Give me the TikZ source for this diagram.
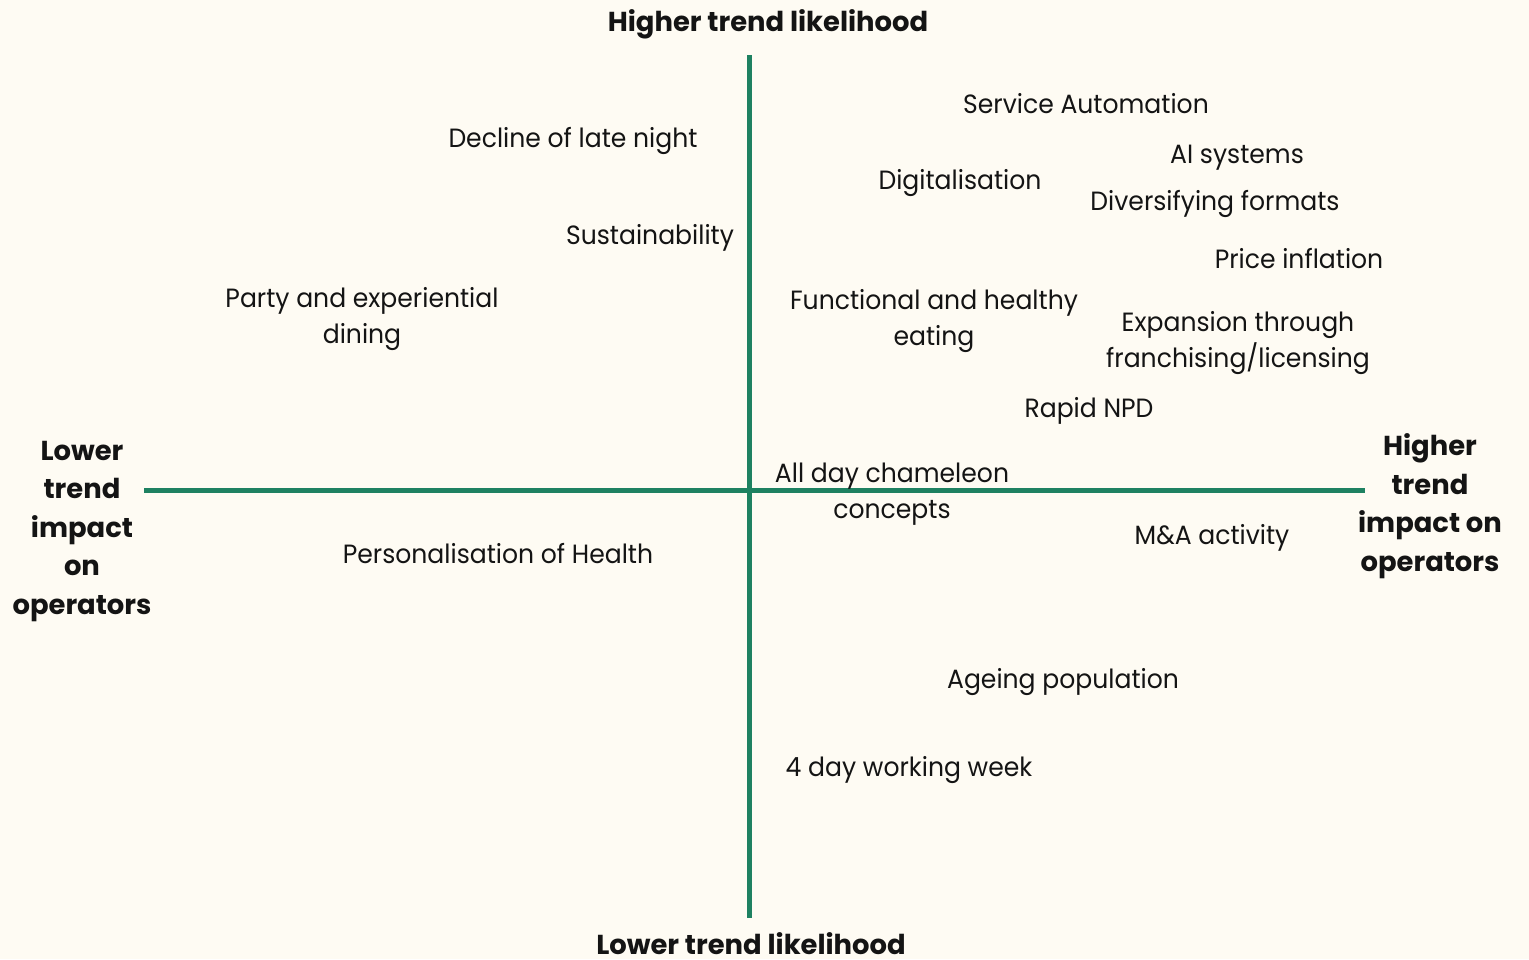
\documentclass[tikz,border=0pt]{standalone}
\usepackage{fontspec}
\setmainfont{Poppins}
\newfontfamily\trendfont[FakeStretch=0.95]{Poppins}
\definecolor{paper}{HTML}{FEFBF3}
\definecolor{axisgreen}{HTML}{1E8161}
\definecolor{ink}{HTML}{141414}
\begin{document}
\begin{tikzpicture}[x=0.5pt,y=-0.5pt,
  axis/.style={draw=axisgreen,line width=2.5pt},
  trend/.style={text=ink,font=\trendfont\fontsize{13.2}{18}\selectfont,align=center,inner sep=0pt,anchor=base},
  axislabel/.style={text=ink,font=\fontsize{13.7}{19.25}\selectfont\bfseries,align=center,inner sep=0pt,anchor=base}]
  % page
  \fill[paper] (0,0) rectangle (1529,959);
  \useasboundingbox (0,0) rectangle (1529,959);
  % axes
  \coordinate (top) at (749,55);
  \coordinate (bottom) at (749,918);
  \coordinate (left) at (144,490);
  \coordinate (right) at (1365,490);
  \draw[axis] (top) -- (bottom);
  \draw[axis] (left) -- (right);
  % axis labels (base anchor = baseline of the last line)
  \node[axislabel] (hlik) at (768,31) {Higher trend likelihood};
  \node[axislabel] (llik) at (751,954) {Lower trend likelihood};
  \node[axislabel] (limp) at (82,614) {Lower\\trend\\impact\\on\\operators};
  \node[axislabel] (himp) at (1430,571) {Higher\\trend\\impact on\\operators};
  % trends
  \node[trend] (t1) at (1086,113) {Service Automation};
  \node[trend] (t2) at (573,147) {Decline of late night};
  \node[trend] (t3) at (1237,163) {AI systems};
  \node[trend] (t4) at (960,189) {Digitalisation};
  \node[trend] (t5) at (1215,210) {Diversifying formats};
  \node[trend] (t6) at (650,244) {Sustainability};
  \node[trend] (t7) at (1299,268) {Price inflation};
  \node[trend] (t8) at (362,343) {Party and experiential\\dining};
  \node[trend] (t9) at (934,345) {Functional and healthy\\eating};
  \node[trend] (t10) at (1238,367) {Expansion through\\franchising/licensing};
  \node[trend] (t11) at (1089,417) {Rapid NPD};
  \node[trend] (t12) at (892,518) {All day chameleon\\concepts};
  \node[trend] (t13) at (1212,544) {M\&A activity};
  \node[trend] (t14) at (498,563) {Personalisation of Health};
  \node[trend] (t15) at (1063,688) {Ageing population};
  \node[trend] (t16) at (909,776) {4 day working week};
\end{tikzpicture}
\end{document}
